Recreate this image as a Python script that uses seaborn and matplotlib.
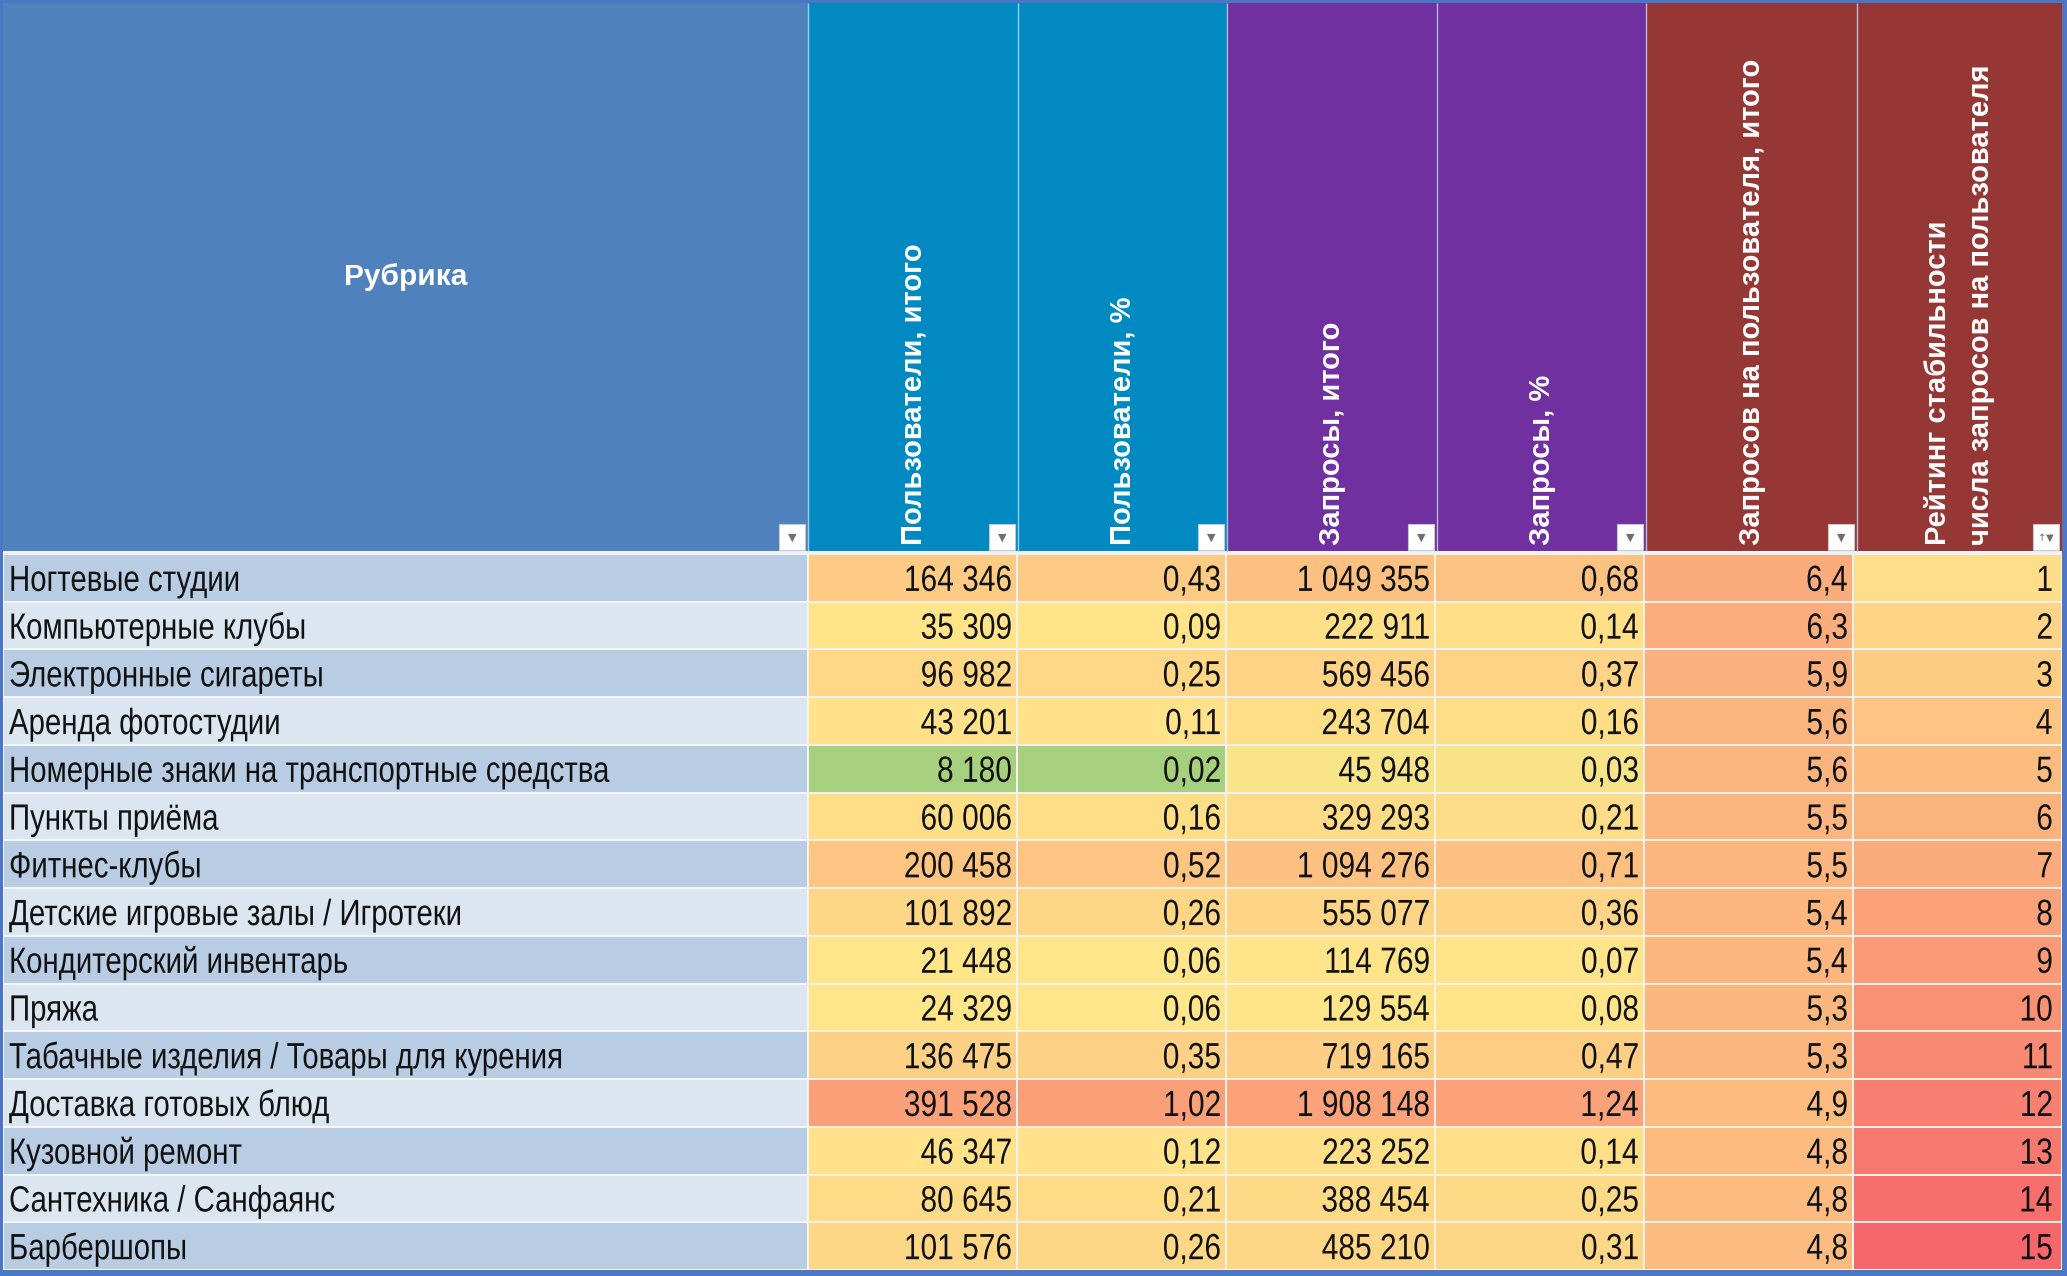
import numpy as np
import pandas as pd
import matplotlib
matplotlib.use("Agg")
import matplotlib.pyplot as plt
import seaborn as sns
from matplotlib.colors import LinearSegmentedColormap, ListedColormap
from matplotlib.patches import Rectangle, PathPatch
from matplotlib.textpath import TextPath
from matplotlib.font_manager import FontProperties
from matplotlib.transforms import Affine2D, IdentityTransform

# данные таблицы
rubrics = [
    "Ногтевые студии", "Компьютерные клубы", "Электронные сигареты",
    "Аренда фотостудии", "Номерные знаки на транспортные средства",
    "Пункты приёма", "Фитнес-клубы", "Детские игровые залы / Игротеки",
    "Кондитерский инвентарь", "Пряжа", "Табачные изделия / Товары для курения",
    "Доставка готовых блюд", "Кузовной ремонт", "Сантехника / Санфаянс",
    "Барбершопы",
]
users_total = [164346, 35309, 96982, 43201, 8180, 60006, 200458, 101892,
               21448, 24329, 136475, 391528, 46347, 80645, 101576]
users_pct = [0.43, 0.09, 0.25, 0.11, 0.02, 0.16, 0.52, 0.26,
             0.06, 0.06, 0.35, 1.02, 0.12, 0.21, 0.26]
queries_total = [1049355, 222911, 569456, 243704, 45948, 329293, 1094276, 555077,
                 114769, 129554, 719165, 1908148, 223252, 388454, 485210]
queries_pct = [0.68, 0.14, 0.37, 0.16, 0.03, 0.21, 0.71, 0.36,
               0.07, 0.08, 0.47, 1.24, 0.14, 0.25, 0.31]
per_user = [6.4, 6.3, 5.9, 5.6, 5.6, 5.5, 5.5, 5.4, 5.4, 5.3, 5.3, 4.9, 4.8, 4.8, 4.8]
rating = [1, 2, 3, 4, 5, 6, 7, 8, 9, 10, 11, 12, 13, 14, 15]

col_titles = ["Пользователи, итого", "Пользователи, %", "Запросы, итого",
              "Запросы, %", "Запросов на пользователя, итого",
              "Рейтинг стабильности\nчисла запросов на пользователя"]
header_colors = ["#008AC1", "#008AC1", "#7030A0", "#7030A0", "#953735", "#953735"]

# трёхцветная шкала (как условное форматирование в Excel): мин / середина / макс
scales = [(8000, 20000, 700000), (0.02, 0.055, 1.8), (0, 50000, 3500000),
          (0, 0.033, 2.3), (0, 0.74, 13.05), (-10, 0, 15)]

df = pd.DataFrame({
    "users_total": users_total, "users_pct": users_pct,
    "queries_total": queries_total, "queries_pct": queries_pct,
    "per_user": per_user, "rating": rating,
}, index=rubrics)


def scale_col(v, lo, mid, hi):
    v = np.asarray(v, dtype=float)
    return np.where(v <= mid, 0.5 * (v - lo) / (mid - lo),
                    0.5 + 0.5 * (v - mid) / (hi - mid)).clip(0, 1)


norm = pd.DataFrame({c: scale_col(df[c], *s) for c, s in zip(df.columns, scales)},
                    index=df.index)


def fmt_int(v):
    return f"{v:,}".replace(",", " ")


def fmt_dec(v, n):
    return f"{v:.{n}f}".replace(".", ",")


labels = pd.DataFrame({
    "users_total": [fmt_int(v) for v in users_total],
    "users_pct": [fmt_dec(v, 2) for v in users_pct],
    "queries_total": [fmt_int(v) for v in queries_total],
    "queries_pct": [fmt_dec(v, 2) for v in queries_pct],
    "per_user": [fmt_dec(v, 1) for v in per_user],
    "rating": [str(v) for v in rating],
}, index=rubrics)

sns.set_style("white")
plt.rcParams["font.family"] = ["Liberation Sans", "DejaVu Sans"]

W, H = 2067, 1276
col_edges = [3, 808, 1018, 1227, 1437, 1646, 1857, 2062]
head_top, head_bot = 3, 551
body_top, body_bot = 554, 1270


def px_rect(x0, y0, x1, y1):
    return [x0 / W, 1 - y1 / H, (x1 - x0) / W, (y1 - y0) / H]


# узкий шрифт (как Arial Narrow): сжимаем контур текста по горизонтали
body_fp = FontProperties(family=["Liberation Sans", "DejaVu Sans"])
EM = 36.5
CAP = 0.716 * EM


def narrow_text(ax, x, y, s, ha="left", sx=0.82):
    tp = TextPath((0, 0), s, size=EM, prop=body_fp)
    w = tp.get_extents().x1 * sx
    dx, dy = ax.transData.transform((x, y))
    if ha == "right":
        dx -= w
    tr = Affine2D().scale(sx, 1).translate(dx, dy - CAP / 2)
    ax.add_patch(PathPatch(tr.transform_path(tp), fc="#111111", ec="none", lw=0,
                           transform=IdentityTransform(), clip_on=False))


fig = plt.figure(figsize=(W / 100, H / 100), dpi=100, facecolor="#4A76C4")

# фон и шапка
bg = fig.add_axes([0, 0, 1, 1])
bg.set_xlim(0, W)
bg.set_ylim(H, 0)
bg.axis("off")
bg.add_patch(Rectangle((col_edges[0], head_top), col_edges[1] - col_edges[0],
                       head_bot - head_top, color="#4F81BD", lw=0))
for k, color in enumerate(header_colors):
    x0, x1 = col_edges[k + 1], col_edges[k + 2]
    bg.add_patch(Rectangle((x0, head_top), x1 - x0, head_bot - head_top, color=color, lw=0))
bg.add_patch(Rectangle((col_edges[0], head_bot), col_edges[-1] - col_edges[0],
                       body_top - head_bot, color="#EEF2F8", lw=0))
bg.vlines(col_edges[1:-1], head_top, head_bot, colors="#C9DDF0", lw=1.0, alpha=0.8)

bg.text((col_edges[0] + col_edges[1]) / 2, 277, "Рубрика", color="white",
        fontsize=21.5, fontweight="bold", ha="center", va="center")
for k, title in enumerate(col_titles):
    xc = (col_edges[k + 1] + col_edges[k + 2]) / 2
    bg.text(xc, 545, title, color="white", fontsize=21, fontweight="bold",
            rotation=90, ha="center", va="bottom", multialignment="left",
            linespacing=1.65)

# кнопки фильтра
for k, xr in enumerate(col_edges[1:]):
    bx = xr - 29
    bg.add_patch(Rectangle((bx, 524), 26, 26, fc="white", ec="#C8C8C8", lw=0.8))
    glyph = "↑▼" if k == len(col_edges) - 2 else "▼"
    bg.text(bx + 13, 538, glyph, color="#6E6E6E", fontsize=7 if len(glyph) > 1 else 8,
            ha="center", va="center", family=["DejaVu Sans"])

# столбец рубрик (чередующиеся полосы)
lab_ax = fig.add_axes(px_rect(col_edges[0], body_top, col_edges[1], body_bot))
band = pd.DataFrame({"band": [i % 2 for i in range(len(rubrics))]}, index=rubrics)
sns.heatmap(band, cmap=ListedColormap(["#B8CCE4", "#DCE6F1"]), vmin=0, vmax=1,
            cbar=False, linewidths=1.3, linecolor="#F3F6FA",
            xticklabels=False, yticklabels=False, ax=lab_ax)

# числовые столбцы с цветовой шкалой
cmap = LinearSegmentedColormap.from_list(
    "excel3", [(0.0, "#A6D07E"), (0.5, "#FFE68A"), (1.0, "#F6676B")])
dat_ax = fig.add_axes(px_rect(col_edges[1], body_top, col_edges[-1], body_bot))
sns.heatmap(norm, cmap=cmap, vmin=0, vmax=1, cbar=False, linewidths=1.3,
            linecolor="#F6F1E8", xticklabels=False, yticklabels=False, ax=dat_ax)

pad_lab = 6 / (col_edges[1] - col_edges[0])
for i, name in enumerate(rubrics):
    narrow_text(lab_ax, pad_lab, i + 0.5, name, ha="left", sx=0.805)
for i in range(labels.shape[0]):
    for j in range(labels.shape[1]):
        pad = 0.05 if j == labels.shape[1] - 1 else 0.03
        narrow_text(dat_ax, j + 1 - pad, i + 0.5, labels.iat[i, j], ha="right")

fig.savefig("out.png", dpi=100, facecolor=fig.get_facecolor())
